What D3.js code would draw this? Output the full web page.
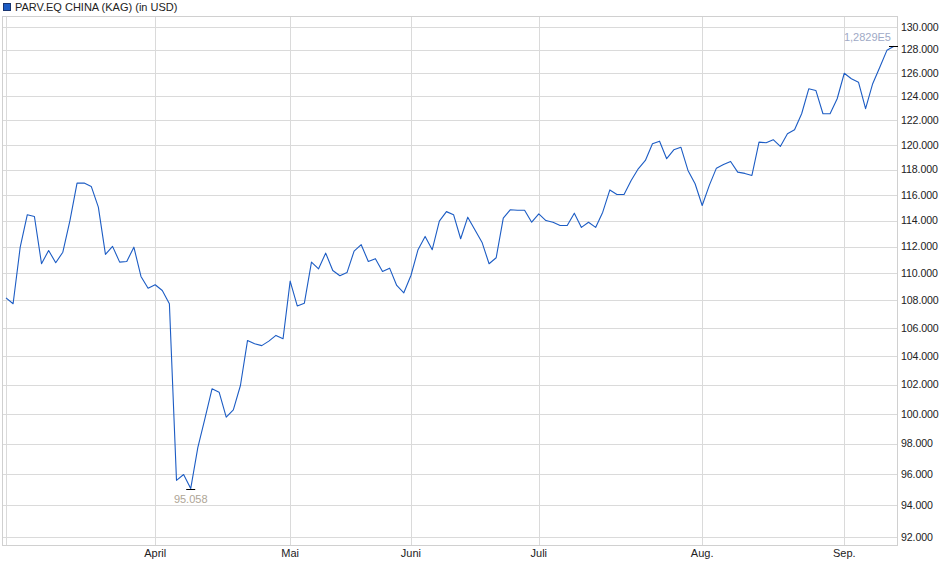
<!DOCTYPE html>
<html><head><meta charset="utf-8">
<script src="https://cdn.jsdelivr.net/npm/d3@7"></script>
<style>
html,body{margin:0;padding:0;background:#fff;}
svg text{font-family:"Liberation Sans",Arial,sans-serif;}
</style></head>
<body>
<svg id="c" width="940" height="579"></svg>
<script>
// Series values (NAV, USD), one per trading day
const values = [
108180,107750,111960,114450,114310,110710,111710,110780,111580,114000,
116930,116930,116670,115040,111410,112020,110830,110880,111960,109760,
108890,109140,108720,107750,95590,95970,95058,97740,99680,101710,
101480,99770,100270,101940,105100,104870,104730,105050,105460,105220,
109410,107590,107790,110830,110330,111510,110200,109810,110050,111660,
112150,110880,111090,110130,110380,109090,108550,109830,111770,112780,
111770,113950,114690,114450,112600,114260,113290,112340,110710,111160,
114180,114840,114800,114800,113870,114520,114000,113870,113620,113620,
114570,113470,113870,113470,114650,116390,116030,116030,117140,118070,
118740,120090,120300,118880,119600,119810,117940,116880,115170,116750,
118120,118420,118660,117800,117700,117540,120220,120170,120420,119870,
120910,121240,122560,124650,124510,122560,122560,123810,125970,125500,
125210,122980,125080,126490,127940,128290
];
// Month labels and the index of the first data point of each month
const monthLabels = ["April","Mai","Juni","Juli","Aug.","Sep."];
const monthIndex  = [21, 40, 57, 75, 98, 118];
// Y tick values
const yTicks = d3.range(92000, 130001, 2000);
const yDomain = [91460, 130910];
const seriesName = "PARV.EQ CHINA (KAG) (in USD)";

const svg = d3.select("#c");
const L = 2.5, R = 897.5, T = 16.5, B = 545.5;
const x = d3.scaleLinear().domain([0, values.length - 1]).range([6, 894]);
const y = d3.scaleLog().domain(yDomain).range([B, T]);
const de = d3.formatLocale({decimal:",", thousands:".", grouping:[3], currency:["","€"]});
const fmt = de.format(",.0f");

// horizontal grid
svg.append("g").selectAll("line").data(yTicks).join("line")
  .attr("x1", L).attr("x2", R)
  .attr("y1", d => Math.round(y(d)) + 0.5).attr("y2", d => Math.round(y(d)) + 0.5)
  .attr("stroke", "#dadada").attr("stroke-width", 1);
// vertical grid (start + months)
svg.append("g").selectAll("line").data([0].concat(monthIndex)).join("line")
  .attr("x1", d => Math.round(x(d)) + 0.5).attr("x2", d => Math.round(x(d)) + 0.5)
  .attr("y1", T).attr("y2", B)
  .attr("stroke", "#dadada").attr("stroke-width", 1);
// frame
svg.append("rect").attr("x", L).attr("y", T).attr("width", R - L).attr("height", B - T)
  .attr("fill", "none").attr("stroke", "#d0d0d0").attr("stroke-width", 1);

// y labels
svg.append("g").selectAll("text").data(yTicks).join("text")
  .attr("x", 901).attr("y", d => y(d)).attr("dy", "0.35em")
  .attr("font-size", 10.6).attr("letter-spacing", "-0.1").attr("fill", "#222").text(d => fmt(d));
// x labels
svg.append("g").selectAll("text").data(monthIndex).join("text")
  .attr("x", d => x(d)).attr("y", 557).attr("text-anchor", "middle")
  .attr("font-size", 11).attr("fill", "#222").text((d, i) => monthLabels[i]);

// line
const line = d3.line().x((d, i) => x(i)).y(d => y(d));
svg.append("path").datum(values).attr("d", line)
  .attr("fill", "none").attr("stroke", "#1c5cc4").attr("stroke-width", 1.1)
  .attr("stroke-linejoin", "round");

// min / max markers
const maxV = d3.max(values), minV = d3.min(values);
const maxI = values.indexOf(maxV), minI = values.indexOf(minV);
svg.append("line").attr("x1", x(maxI) - 5).attr("x2", x(maxI) + 4)
  .attr("y1", Math.round(y(maxV)) + 0.5).attr("y2", Math.round(y(maxV)) + 0.5)
  .attr("stroke", "#000");
const expStr = v => { const [m, e] = v.toExponential(4).split("e"); return m.replace(".", ",") + "E" + (+e); };
svg.append("text").attr("x", x(maxI) - 3).attr("y", y(maxV) - 5).attr("text-anchor", "end")
  .attr("font-size", 11).attr("fill", "#9ea9c6").text(expStr(maxV));
svg.append("line").attr("x1", x(minI) - 4.5).attr("x2", x(minI) + 4.5)
  .attr("y1", Math.round(y(minV)) + 0.5).attr("y2", Math.round(y(minV)) + 0.5)
  .attr("stroke", "#000");
svg.append("text").attr("x", x(minI)).attr("y", y(minV) + 14).attr("text-anchor", "middle")
  .attr("font-size", 11).attr("fill", "#aea596").text(de.format(",.0f")(minV));

// legend
svg.append("rect").attr("x", 3.5).attr("y", 3.5).attr("width", 7).attr("height", 7)
  .attr("fill", "#1c5cc4").attr("stroke", "#1a3570");
svg.append("text").attr("x", 15).attr("y", 11).attr("font-size", 11).attr("fill", "#222").text(seriesName);
</script>
</body></html>
